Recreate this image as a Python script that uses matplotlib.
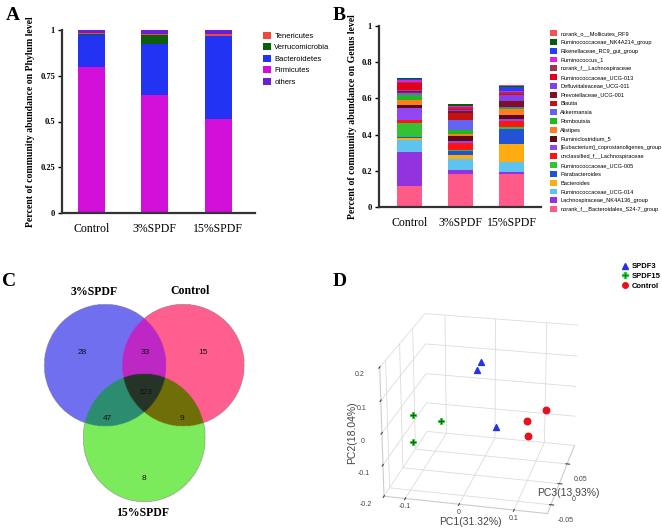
import numpy as np
import matplotlib.pyplot as plt
from matplotlib.lines import Line2D

plt.rcParams['font.family'] = ['Liberation Serif', 'DejaVu Serif']
SANS = ['Liberation Sans', 'DejaVu Sans']

# ---- data ----
groups = ['Control', '3%SPDF', '15%SPDF']

# panel A, phylum level (stacked bottom -> top)
firmicutes = [0.800, 0.645, 0.515]
bacteroidetes = [0.172, 0.280, 0.450]
verrucomicrobia = [0.008, 0.045, 0.002]
tenericutes = [0.006, 0.008, 0.010]
others = [0.014, 0.022, 0.023]

# panel B, genus level (stacked bottom -> top)
genus_names = [
    'norank_f__Bacteroidales_S24-7_group', 'Lachnospiraceae_NK4A136_group',
    'Ruminococcaceae_UCG-014', 'Bacteroides', 'Parabacteroides',
    'Ruminococcaceae_UCG-005', 'unclassified_f__Lachnospiraceae',
    '[Eubacterium]_coprostanoligenes_group', 'Ruminiclostridium_5', 'Alistipes',
    'Romboutsia', 'Akkermansia', 'Blautia', 'Prevotellaceae_UCG-001',
    'Defluviitaleaceae_UCG-011', 'Ruminococcaceae_UCG-013',
    'norank_f__Lachnospiraceae', 'Ruminococcus_1', 'Rikenellaceae_RC9_gut_group',
    'Ruminococcaceae_NK4A214_group', 'norank_o__Mollicutes_RF9']
genus_control = [0.116, 0.190, 0.063, 0.011, 0.004, 0.080, 0.015, 0.066, 0.018, 0.026,
                 0.031, 0.009, 0.008, 0.004, 0.004, 0.040, 0.004, 0.015, 0.003, 0.005, 0.003]
genus_3 = [0.183, 0.020, 0.063, 0.024, 0.018, 0.009, 0.037, 0.009, 0.028, 0.013,
           0.024, 0.055, 0.037, 0.009, 0.009, 0.005, 0.008, 0.005, 0.003, 0.008, 0.002]
genus_15 = [0.180, 0.015, 0.055, 0.100, 0.080, 0.010, 0.035, 0.010, 0.025, 0.030,
            0.005, 0.005, 0.005, 0.030, 0.035, 0.003, 0.012, 0.005, 0.025, 0.005, 0.003]
genus_colors = ['#ff5a88', '#9333e0', '#5fc3f0', '#ffab12', '#2452d6',
                '#33c233', '#ff1414', '#9247f2', '#5e0a14', '#ff7d1e',
                '#22b822', '#6464f0', '#c41212', '#7d1222', '#7f42ee', '#e3001a',
                '#a3314f', '#e31fe3', '#2040ff', '#0b5a0b', '#f05454']

# panel C, venn counts
venn_sets = ['3%SPDF', 'Control', '15%SPDF']
venn_counts = ['28', '33', '15', '323', '47', '9', '8']

# panel D, PCA scores
pca_groups = ['SPDF3', 'SPDF15', 'Control']
pca_axis_labels = ['PC1(31.32%)', 'PC2(18.04%)', 'PC3(13.93%)']
spdf3_pc1 = [0.000, -0.005, 0.047]
spdf3_pc2 = [0.130, 0.110, -0.012]
spdf3_pc3 = [0.030, 0.025, -0.020]
spdf15_pc1 = [-0.133, -0.074, -0.103]
spdf15_pc2 = [-0.061, -0.058, -0.071]
spdf15_pc3 = [0.030, 0.020, -0.030]
control_pc1 = [0.118, 0.098, 0.114]
control_pc2 = [-0.028, -0.008, -0.003]
control_pc3 = [0.050, 0.000, -0.040]

W, H = 662, 532
fig = plt.figure(figsize=(6.62, 5.32), dpi=100)


def box(x0, y0, x1, y1):
    return [x0 / W, 1 - y1 / H, (x1 - x0) / W, (y1 - y0) / H]


def style_bar_axes(ax):
    for s in ['top', 'right']:
        ax.spines[s].set_visible(False)
    for s in ['left', 'bottom']:
        ax.spines[s].set_linewidth(1.6)
        ax.spines[s].set_color('#333333')
    ax.tick_params(axis='y', labelsize=6, width=1, length=3, pad=2)
    ax.tick_params(axis='x', length=0, labelsize=8.5, pad=7)
    for t in ax.get_yticklabels():
        t.set_fontweight('bold')


# ---- A ----
axA = fig.add_axes(box(62, 30, 255, 213))
x = np.arange(3)
phyla = [('Firmicutes', firmicutes, '#d20fd8'),
         ('Bacteroidetes', bacteroidetes, '#2233f4'),
         ('Verrucomicrobia', verrucomicrobia, '#0b5e0b'),
         ('Tenericutes', tenericutes, '#ef4a3a'),
         ('others', others, '#6a1fd4')]
bottom = np.zeros(3)
handlesA = {}
for name, vals, col in phyla:
    b = axA.bar(x, vals, width=0.43, bottom=bottom, color=col, label=name)
    handlesA[name] = b
    bottom += np.array(vals)
axA.set_xlim(-0.46, 2.58)
axA.set_ylim(0, 1.0)
axA.set_yticks([0, 0.25, 0.5, 0.75, 1])
axA.set_yticklabels(['0', '0.25', '0.5', '0.75', '1'])
axA.set_xticks(x)
axA.set_xticklabels(groups)
style_bar_axes(axA)
axA.set_ylabel('Percent of community abundance on Phylum level', fontsize=7,
               fontweight='bold', labelpad=4)
orderA = ['Tenericutes', 'Verrucomicrobia', 'Bacteroidetes', 'Firmicutes', 'others']
axA.legend([handlesA[n] for n in orderA], orderA, loc='upper left',
           bbox_to_anchor=(256 / W, 1 - 25 / H), bbox_transform=fig.transFigure,
           frameon=False, prop={'family': SANS, 'size': 5.5},
           handlelength=1.0, handleheight=1.0, labelspacing=0.45, handletextpad=0.5)

# ---- B ----
axB = fig.add_axes(box(379, 26, 541, 207))
gvals = np.array([genus_control, genus_3, genus_15])
bottom = np.zeros(3)
handlesB = []
for i, name in enumerate(genus_names):
    b = axB.bar(x, gvals[:, i], width=0.49, bottom=bottom, color=genus_colors[i])
    handlesB.append(b)
    bottom += gvals[:, i]
axB.set_xlim(-0.6, 2.57)
axB.set_ylim(0, 1.0)
axB.set_yticks([0, 0.2, 0.4, 0.6, 0.8, 1])
axB.set_yticklabels(['0', '0.2', '0.4', '0.6', '0.8', '1'])
axB.set_xticks(x)
axB.set_xticklabels(groups)
style_bar_axes(axB)
axB.set_ylabel('Percent of community abundance on Genus level', fontsize=7,
               fontweight='bold', labelpad=3)
axB.legend(handlesB[::-1], genus_names[::-1], loc='upper left',
           bbox_to_anchor=(545 / W, 1 - 25 / H), bbox_transform=fig.transFigure,
           frameon=False, prop={'family': SANS, 'size': 4.1},
           handlelength=1.2, handleheight=1.2, labelspacing=0.52, handletextpad=0.6)

# ---- C (venn) ----
axC = fig.add_axes(box(0, 260, 330, 532))
axC.set_xlim(0, 330)
axC.set_ylim(532, 260)
axC.axis('off')
gx, gy = np.meshgrid(np.arange(0, 330, 0.5), np.arange(260, 532, 0.5))
inA = (gx - 105) ** 2 + (gy - 365) ** 2 <= 61 ** 2
inB = (gx - 183) ** 2 + (gy - 365) ** 2 <= 61 ** 2
inC = ((gx - 144) / 61) ** 2 + ((gy - 437.5) / 64) ** 2 <= 1
img = np.zeros(gx.shape + (4,))
region_colors = [
    (inA & ~inB & ~inC, (112, 112, 240)),
    (~inA & inB & ~inC, (255, 96, 142)),
    (~inA & ~inB & inC, (124, 236, 92)),
    (inA & inB & ~inC, (190, 40, 196)),
    (inA & ~inB & inC, (44, 140, 112)),
    (~inA & inB & inC, (112, 110, 8)),
    (inA & inB & inC, (38, 52, 40)),
]
for mask, rgb in region_colors:
    img[mask] = [c / 255 for c in rgb] + [1.0]
axC.imshow(img, extent=(0, 330, 532, 260), interpolation='bilinear')
for name, (tx, ty) in zip(venn_sets, [(94, 292), (190, 291), (143, 513)]):
    axC.text(tx, ty, name, ha='center', va='center', fontsize=8.5, fontweight='bold')
for cnt, (tx, ty) in zip(venn_counts, [(82, 352), (145, 352), (203, 352), (146, 393),
                                       (107, 418), (182, 418), (144, 478)]):
    axC.text(tx, ty, cnt, ha='center', va='center', fontsize=6, family=SANS,
             color='#111111')

# ---- D (3d pca) ----
axD = fig.add_axes(box(357, 293, 603, 531), projection='3d')
axD.scatter(spdf3_pc1, spdf3_pc3, spdf3_pc2, marker='^', color='#2233e8', s=18,
            depthshade=False)
axD.scatter(spdf15_pc1, spdf15_pc3, spdf15_pc2, marker='P', color='#0f5e0f',
            edgecolor='#33cc33', linewidth=0.6, s=18, depthshade=False)
axD.scatter(control_pc1, control_pc3, control_pc2, marker='o', color='#e8101c', s=22,
            depthshade=False)
axD.set_xlim(-0.14, 0.16)
axD.set_ylim(-0.07, 0.10)
axD.set_zlim(-0.2, 0.2)
axD.set_xticks([-0.1, 0, 0.1])
axD.set_xticklabels(['-0.1', '0', '0.1'])
axD.set_yticks([-0.05, 0, 0.05])
axD.set_yticklabels(['-0.05', '0', '0.05'])
axD.set_zticks([-0.2, -0.1, 0, 0.1, 0.2])
axD.set_zticklabels(['-0.2', '-0.1', '0', '0.1', '0.2'])
for a in (axD.xaxis, axD.yaxis, axD.zaxis):
    a.set_pane_color((1, 1, 1, 1))
    a._axinfo['grid']['color'] = '#dcdcdc'
    a._axinfo['grid']['linewidth'] = 0.6
    a.line.set_color('#cccccc')
    for t in a.get_ticklabels():
        t.set_family(SANS)
axD.zaxis.set_ticks_position('lower')
axD.tick_params(labelsize=5, colors='#444444', pad=0)
axD.tick_params(axis='x', pad=-6)
axD.set_box_aspect((1.32, 1.3, 1.1), zoom=1.08)
axD.view_init(elev=23, azim=-77)
lab_kw = dict(fontsize=7.5, family=SANS, color='#444444', ha='center', va='center')
fig.text(470 / W, 1 - 522 / H, pca_axis_labels[0], **lab_kw)
fig.text(352 / W, 1 - 433 / H, pca_axis_labels[1], rotation=90, **lab_kw)
fig.text(568 / W, 1 - 493 / H, pca_axis_labels[2], **lab_kw)
legD = [Line2D([], [], marker='^', ls='', color='#2233e8', ms=4),
        Line2D([], [], marker='P', ls='', color='#0f5e0f', mec='#33cc33', ms=4),
        Line2D([], [], marker='o', ls='', color='#e8101c', ms=4)]
fig.legend(legD, pca_groups, loc='upper left', bbox_to_anchor=(614 / W, 1 - 256 / H),
           frameon=False, prop={'family': SANS, 'size': 5.5, 'weight': 'bold'},
           handlelength=1.0, labelspacing=0.3, handletextpad=0.4)

# panel letters
for letter, (lx, ly) in zip('ABCD', [(13, 15), (339, 15), (9, 282), (340, 282)]):
    fig.text(lx / W, 1 - ly / H, letter, fontsize=14, fontweight='bold',
             ha='center', va='center')

fig.savefig('out.png', dpi=100)
